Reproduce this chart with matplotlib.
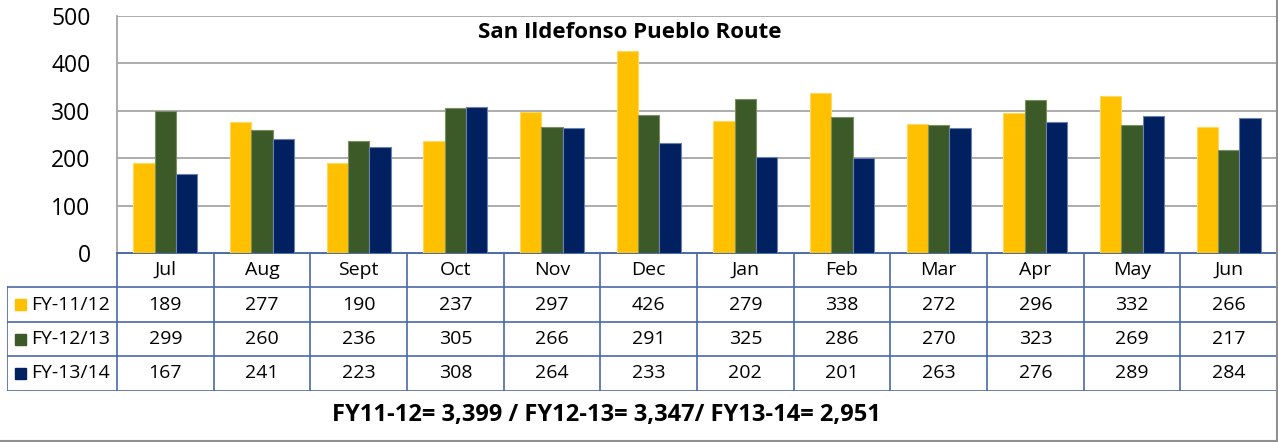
import matplotlib
matplotlib.use("Agg")
import matplotlib.pyplot as plt
import numpy as np
from matplotlib.patches import Rectangle

plt.rcParams['font.family'] = ['Open Sans', 'DejaVu Sans']

months = ["Jul", "Aug", "Sept", "Oct", "Nov", "Dec", "Jan", "Feb", "Mar", "Apr", "May", "Jun"]
series_names = ["FY-11/12", "FY-12/13", "FY-13/14"]
fy11_12 = [189, 277, 190, 237, 297, 426, 279, 338, 272, 296, 332, 266]
fy12_13 = [299, 260, 236, 305, 266, 291, 325, 286, 270, 323, 269, 217]
fy13_14 = [167, 241, 223, 308, 264, 233, 202, 201, 263, 276, 289, 284]
totals_text = "FY11-12= 3,399 / FY12-13= 3,347/ FY13-14= 2,951"

colors = ["#FFC000", "#3C5A27", "#002060"]
edges = ["#FFD860", "#7A9060", "#6A80B0"]
table_blue = "#4A6AAA"
grid_grey = "#A6A6A6"

W, H = 1278, 442
fig = plt.figure(figsize=(W / 100, H / 100), dpi=100)

def fx(px):
    return px / W

def fy(px):
    return 1 - px / H

# bar area
left, right, top, bottom = 117, 1277, 16, 253
ax = fig.add_axes([fx(left), fy(bottom), fx(right - left), fy(top) - fy(bottom)])
x = np.arange(len(months))
bw = 0.22
for i, vals in enumerate([fy11_12, fy12_13, fy13_14]):
    ax.bar(x + (i - 1) * bw, vals, width=bw, color=colors[i],
           edgecolor=edges[i], linewidth=0.8, zorder=3)
ax.set_xlim(-0.5, len(months) - 0.5)
ax.set_ylim(0, 500)
ax.set_yticks(range(0, 501, 100))
ax.yaxis.grid(True, color=grid_grey, linewidth=1.3, zorder=0)
ax.set_xticks([])
ax.tick_params(axis='y', length=0, labelsize=16.5, pad=19, labelcolor="#000000")
for s in ["top", "right"]:
    ax.spines[s].set_visible(False)
ax.spines["left"].set_color(grid_grey)
ax.spines["left"].set_linewidth(1.3)
ax.spines["bottom"].set_color(table_blue)
ax.spines["bottom"].set_linewidth(1.3)
ax.text(0.442, 0.93, "San Ildefonso Pueblo Route", transform=ax.transAxes,
        ha="center", va="center", fontsize=16, fontweight="bold")

# data table below the bars
tleft, tright, ttop, tbot = 7, 1277, 253, 391
tax = fig.add_axes([fx(tleft), fy(tbot), fx(tright - tleft), fy(ttop) - fy(tbot)])
tax.set_xlim(tleft, tright)
tax.set_ylim(tbot, ttop)
tax.axis("off")
col_w = (right - left) / len(months)
row_edges = [253, 287, 322, 356, 391]
lw = 1.2
# horizontal lines
tax.plot([left, right], [row_edges[0]] * 2, color=table_blue, lw=lw)
for yv in row_edges[1:]:
    tax.plot([tleft, right], [yv, yv], color=table_blue, lw=lw)
# vertical lines
tax.plot([tleft, tleft], [row_edges[1], row_edges[-1]], color=table_blue, lw=lw)
for j in range(len(months) + 1):
    xv = left + j * col_w
    tax.plot([xv, xv], [row_edges[0], row_edges[-1]], color=table_blue, lw=lw)

fs = 14
for j, m in enumerate(months):
    cx = left + (j + 0.5) * col_w
    tax.text(cx, (row_edges[0] + row_edges[1]) / 2, m, ha="center", va="center", fontsize=fs)
for r, (name, vals) in enumerate(zip(series_names, [fy11_12, fy12_13, fy13_14])):
    cy = (row_edges[r + 1] + row_edges[r + 2]) / 2
    tax.add_patch(Rectangle((15, cy - 5.5), 11, 11, color=colors[r]))
    tax.text(31, cy, name, ha="left", va="center", fontsize=fs)
    for j, v in enumerate(vals):
        cx = left + (j + 0.5) * col_w
        tax.text(cx, cy, str(v), ha="center", va="center", fontsize=fs)

fig.text(fx(606), fy(415), totals_text, ha="center", va="center",
         fontsize=17, fontweight="bold")

# chart frame
fig.add_artist(plt.Line2D([0, 1], [fy(440.5)] * 2, color="#909090", lw=1.5))
fig.add_artist(plt.Line2D([fx(1277)] * 2, [fy(0), fy(440.5)], color="#909090", lw=1.5))

fig.savefig("out.png", dpi=100)
